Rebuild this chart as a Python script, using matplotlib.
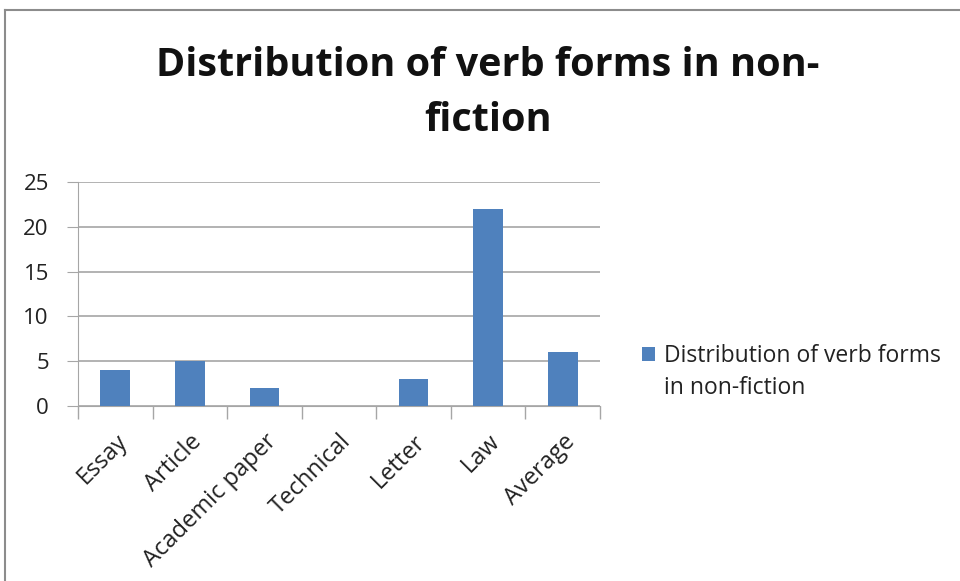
import matplotlib
matplotlib.use("Agg")
import matplotlib.pyplot as plt
from matplotlib.lines import Line2D
from matplotlib.patches import Rectangle

categories = ["Essay", "Article", "Academic paper", "Technical", "Letter", "Law", "Average"]
values = [4, 5, 2, 0, 3, 22, 6]
series_name = "Distribution of verb forms\nin non-fiction"
title = "Distribution of verb forms in non-\nfiction"

bar_color = "#4f81bd"
grid_color = "#a6a6a6"
text_color = "#222222"

plt.rcParams["font.family"] = ["Open Sans", "DejaVu Sans"]

fig = plt.figure(figsize=(9.6, 5.81), dpi=100)
ax = fig.add_axes([78 / 960, 1 - 406 / 581, (600 - 78) / 960, (406 - 182) / 581])

x = range(len(categories))
ax.bar(x, values, width=0.4, color=bar_color, zorder=3)

ax.set_xlim(-0.5, len(categories) - 0.5)
ax.set_ylim(0, 25)
ax.set_yticks([0, 5, 10, 15, 20, 25])
ax.yaxis.grid(True, color=grid_color, linewidth=1.2, zorder=0)

# category boundaries get the tick marks, labels sit at the centres
ax.set_xticks([i - 0.5 for i in range(len(categories) + 1)])
ax.set_xticklabels([])
ax.set_xticks(list(x), minor=True)
ax.set_xticklabels(categories, minor=True, rotation=45, ha="right", va="top",
                   rotation_mode="anchor", fontsize=17, color=text_color)
ax.tick_params(axis="x", which="major", length=9, color=grid_color, width=1)
ax.tick_params(axis="x", which="minor", length=0, pad=17)
ax.tick_params(axis="y", length=8, color=grid_color, labelsize=16,
               labelcolor=text_color, pad=13)

for s in ["top", "right"]:
    ax.spines[s].set_visible(False)
ax.spines["left"].set_color(grid_color)
ax.spines["bottom"].set_color(grid_color)

fig.text(488 / 960, 1 - 93 / 581, title, ha="center", va="center",
         fontsize=28.5, fontweight="bold", linespacing=1.56, color="#111111")

# legend
fig.add_artist(Rectangle((642 / 960, 1 - 361 / 581), 13 / 960, 14 / 581,
                         transform=fig.transFigure, facecolor=bar_color,
                         edgecolor="none"))
fig.text(664 / 960, 1 - 394 / 581, series_name, ha="left", va="baseline",
         fontsize=16.5, color=text_color, linespacing=1.47)

# chart border (cut off at right and bottom)
fig.add_artist(Line2D([5 / 960, 1], [1 - 10 / 581, 1 - 10 / 581],
                      transform=fig.transFigure, color="#8c8c8c", linewidth=1.5))
fig.add_artist(Line2D([5 / 960, 5 / 960], [0, 1 - 10 / 581],
                      transform=fig.transFigure, color="#8c8c8c", linewidth=1.5))

fig.savefig("out.png", dpi=100)
